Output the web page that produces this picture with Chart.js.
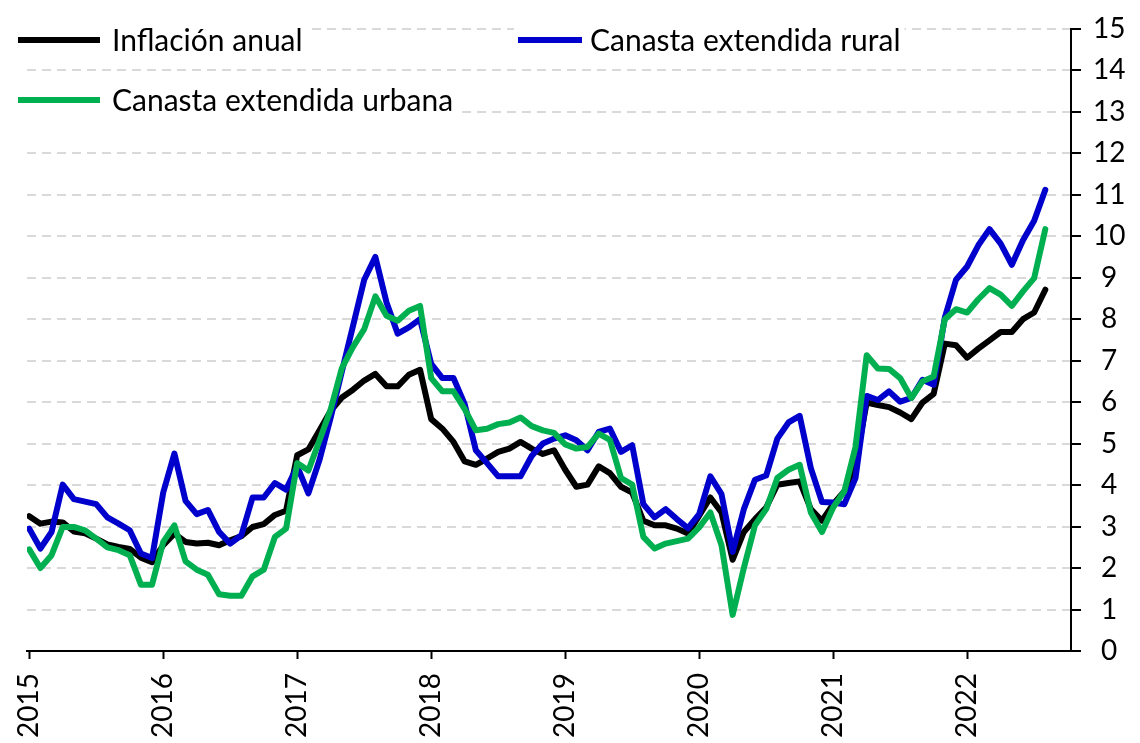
<!DOCTYPE html>
<html>
<head>
<meta charset="utf-8">
<script src="https://cdn.jsdelivr.net/npm/chart.js@4.4.0/dist/chart.umd.min.js"></script>
<style>
  html, body { margin: 0; padding: 0; background: #fff; }
</style>
</head>
<body>
<canvas id="chart" width="1140" height="743"></canvas>
<script>
// year tick labels, one every 12 months starting Jan 2015
const years = ["2015", "2016", "2017", "2018", "2019", "2020", "2021", "2022"];

// monthly values, Jan 2015 - Aug 2022 (% annual)
const inflacion = [
  3.25, 3.07, 3.12, 3.10, 2.88, 2.84, 2.71, 2.57, 2.51, 2.46, 2.25, 2.14,
  2.55, 2.83, 2.63, 2.59, 2.61, 2.55, 2.67, 2.77, 2.99, 3.06, 3.28, 3.38,
  4.72, 4.86, 5.32, 5.79, 6.11, 6.30, 6.52, 6.68, 6.38, 6.38, 6.66, 6.78,
  5.59, 5.36, 5.04, 4.57, 4.49, 4.64, 4.80, 4.88, 5.04, 4.88, 4.75, 4.84,
  4.37, 3.96, 4.01, 4.45, 4.29, 3.96, 3.82, 3.14, 3.03, 3.03, 2.95, 2.83,
  3.26, 3.70, 3.34, 2.20, 2.87, 3.18, 3.46, 4.01, 4.05, 4.09, 3.42, 3.14,
  3.54, 3.85, 4.50, 5.99, 5.93, 5.88, 5.75, 5.59, 5.99, 6.20, 7.41, 7.37,
  7.07, 7.29, 7.49, 7.69, 7.69, 8.00, 8.16, 8.71
];
const rural = [
  2.95, 2.47, 2.87, 4.01, 3.66, 3.60, 3.54, 3.22, 3.07, 2.91, 2.35, 2.24,
  3.82, 4.76, 3.62, 3.30, 3.40, 2.87, 2.59, 2.79, 3.70, 3.70, 4.05, 3.89,
  4.45, 3.80, 4.61, 5.63, 6.74, 7.84, 8.95, 9.50, 8.40, 7.65, 7.80, 8.00,
  6.92, 6.58, 6.58, 5.95, 4.84, 4.53, 4.21, 4.21, 4.21, 4.70, 5.00, 5.12,
  5.20, 5.08, 4.84, 5.28, 5.36, 4.80, 4.96, 3.54, 3.22, 3.42, 3.18, 2.96,
  3.30, 4.21, 3.78, 2.39, 3.42, 4.13, 4.23, 5.12, 5.51, 5.67, 4.41, 3.59,
  3.58, 3.54, 4.17, 6.15, 6.05, 6.26, 6.01, 6.10, 6.54, 6.42, 8.04, 8.95,
  9.27, 9.78, 10.17, 9.82, 9.31, 9.90, 10.37, 11.12
];
const urbana = [
  2.45, 2.00, 2.31, 2.99, 2.99, 2.91, 2.71, 2.50, 2.43, 2.31, 1.60, 1.60,
  2.63, 3.03, 2.16, 1.96, 1.84, 1.37, 1.33, 1.33, 1.80, 1.96, 2.75, 2.95,
  4.53, 4.35, 5.08, 5.83, 6.82, 7.33, 7.76, 8.55, 8.08, 7.96, 8.20, 8.32,
  6.58, 6.26, 6.26, 5.83, 5.32, 5.36, 5.47, 5.51, 5.63, 5.42, 5.32, 5.26,
  4.98, 4.88, 4.92, 5.24, 5.09, 4.17, 4.01, 2.75, 2.47, 2.59, 2.65, 2.71,
  2.98, 3.34, 2.55, 0.87, 2.00, 3.03, 3.42, 4.17, 4.37, 4.49, 3.34, 2.87,
  3.46, 3.85, 4.92, 7.13, 6.81, 6.80, 6.58, 6.10, 6.50, 6.62, 8.00, 8.24,
  8.16, 8.48, 8.75, 8.59, 8.32, 8.67, 8.99, 10.17
];

const seriesNames = ["Inflación anual", "Canasta extendida rural", "Canasta extendida urbana"];
const seriesColors = ["#000000", "#0000CC", "#00B050"];

const FONT = "Lato";

// legend entries sit inside the plot, top left, like the original
const legendSpots = [
  { x: 18, y: 40, len: 82, tx: 112 },
  { x: 518, y: 40, len: 64, tx: 590 },
  { x: 18, y: 100, len: 82, tx: 112 }
];

const inlineLegend = {
  id: "inlineLegend",
  afterDatasetsDraw(chart) {
    const ctx = chart.ctx;
    ctx.save();
    ctx.font = "30px " + FONT;
    ctx.textBaseline = "middle";
    chart.data.datasets.forEach((ds, i) => {
      const s = legendSpots[i];
      const w = ctx.measureText(ds.label).width;
      ctx.fillStyle = "#fff";
      ctx.fillRect(s.x - 4, s.y - 18, s.tx - s.x + w + 8, 36);
      ctx.strokeStyle = ds.borderColor;
      ctx.lineWidth = 6;
      ctx.beginPath();
      ctx.moveTo(s.x, s.y);
      ctx.lineTo(s.x + s.len, s.y);
      ctx.stroke();
      ctx.fillStyle = "#000";
      ctx.fillText(ds.label, s.tx, s.y + 1);
    });
    ctx.restore();
  }
};

const toPoints = (arr) => arr.map((v, i) => ({ x: i, y: v }));

new Chart(document.getElementById("chart"), {
  type: "line",
  data: {
    datasets: [inflacion, rural, urbana].map((arr, i) => ({
      label: seriesNames[i],
      data: toPoints(arr),
      borderColor: seriesColors[i],
      backgroundColor: seriesColors[i],
      borderWidth: 6,
      borderJoinStyle: "round",
      borderCapStyle: "round",
      pointRadius: 0,
      tension: 0,
      order: 2 - i
    }))
  },
  options: {
    responsive: false,
    animation: false,
    devicePixelRatio: 1,
    layout: { padding: { left: 27, top: 18, right: 0, bottom: 0 } },
    plugins: {
      legend: { display: false },
      tooltip: { enabled: false }
    },
    scales: {
      x: {
        type: "linear",
        min: -0.2,
        max: 93.3,
        afterBuildTicks: (scale) => {
          scale.ticks = years.map((y, i) => ({ value: i * 12 }));
        },
        afterFit: (scale) => { scale.height = 92; },
        ticks: {
          autoSkip: false,
          minRotation: 90,
          maxRotation: 90,
          padding: 14,
          color: "#000",
          font: { family: FONT, size: 28 },
          callback: (v) => years[Math.round(v / 12)]
        },
        grid: {
          drawOnChartArea: false,
          tickLength: 8,
          tickWidth: 2,
          tickColor: "#000"
        },
        border: { display: true, color: "#000", width: 2 }
      },
      y: {
        position: "right",
        min: 0,
        max: 15,
        afterFit: (scale) => { scale.width = 69; },
        ticks: {
          stepSize: 1,
          padding: 12,
          crossAlign: "center",
          color: "#000",
          font: { family: FONT, size: 28 }
        },
        grid: {
          color: "#d9d9d9",
          lineWidth: 2,
          tickLength: 10,
          tickWidth: 2,
          tickColor: "#000"
        },
        border: { display: true, color: "#000", width: 2, dash: [9, 6] }
      }
    }
  },
  plugins: [inlineLegend]
});
</script>
</body>
</html>
